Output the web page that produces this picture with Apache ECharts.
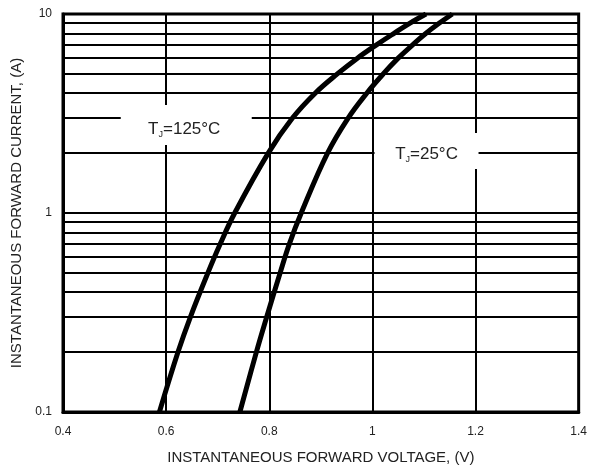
<!DOCTYPE html>
<html>
<head>
<meta charset="utf-8">
<script src="https://cdn.jsdelivr.net/npm/echarts@6/dist/echarts.min.js"></script>
<style>
html,body{margin:0;padding:0;background:#fff;}
#chart{width:590px;height:472px;}
</style>
</head>
<body>
<div id="chart"></div>
<script>
// Forward current (A) sample levels, shared by both curves
const currentA = [0.1, 0.2, 0.3, 0.5, 0.7, 1, 2, 3, 4, 5, 6, 7, 8, 9, 10];
// Forward voltage (V) at Tj = 125 °C
const voltage125 = [0.587, 0.623, 0.647, 0.681, 0.705, 0.733, 0.798, 0.845, 0.889, 0.932, 0.971, 1.008, 1.042, 1.073, 1.104];
// Forward voltage (V) at Tj = 25 °C
const voltage25 = [0.743, 0.775, 0.795, 0.821, 0.839, 0.862, 0.913, 0.953, 0.989, 1.021, 1.050, 1.078, 1.104, 1.130, 1.155];
// Horizontal grid levels (log minor lines)
const gridLevels = [0.2, 0.3, 0.4, 0.5, 0.6, 0.7, 0.8, 0.9, 1, 2, 3, 4, 5, 6, 7, 8, 9];
// X tick labels
const xTicks = ['0.4', '0.6', '0.8', '1', '1.2', '1.4'];
// Curve labels: [voltage, current] anchors
const label125 = { text: '125°C', at: [0.639, 2.77] };
const label25 = { text: '25°C', at: [1.105, 2.05] };

const FONT = 'Liberation Sans, Arial, sans-serif';
const pairs = (xs, ys) => xs.map((x, i) => [x, ys[i]]);

const richStyle = {
  t: { fontSize: 17, color: '#222', fontFamily: FONT, lineHeight: 20 },
  s: { fontSize: 9, color: '#222', fontFamily: FONT, lineHeight: 13, verticalAlign: 'bottom' }
};

const chart = echarts.init(document.getElementById('chart'), null, { renderer: 'canvas' });
chart.setOption({
  animation: false,
  backgroundColor: '#fff',
  grid: { left: 63, right: 11, top: 14, bottom: 60, show: true, borderColor: '#000', borderWidth: 3, backgroundColor: 'transparent' },
  xAxis: {
    type: 'value', min: 0.4, max: 1.4, interval: 0.2,
    name: 'INSTANTANEOUS FORWARD VOLTAGE, (V)', nameLocation: 'middle', nameGap: 38,
    nameTextStyle: { fontSize: 15, color: '#222', fontFamily: FONT },
    axisLine: { show: true, lineStyle: { color: '#000', width: 3 } },
    axisTick: { show: false },
    axisLabel: { fontSize: 12, color: '#222', fontFamily: FONT, margin: 14,
      formatter: (v) => { const i = Math.round((v - 0.4) / 0.2); return xTicks[i] !== undefined ? xTicks[i] : ''; } },
    splitLine: { show: true, lineStyle: { color: '#000', width: 2 } }
  },
  yAxis: {
    type: 'log', logBase: 10, min: 0.1, max: 10,
    name: 'INSTANTANEOUS FORWARD CURRENT, (A)', nameLocation: 'middle', nameGap: 37,
    nameTextStyle: { fontSize: 15, color: '#222', fontFamily: FONT },
    axisLine: { show: true, lineStyle: { color: '#000', width: 3 } },
    axisTick: { show: false },
    axisLabel: { fontSize: 12, color: '#222', fontFamily: FONT, margin: 11,
      formatter: (v) => (v >= 1 ? String(Math.round(v)) : String(Math.round(v * 10) / 10)) },
    splitLine: { show: false }
  },
  series: [
    {
      type: 'line', data: [], z: 1, silent: true,
      markLine: {
        z: 1, silent: true, symbol: ['none', 'none'], animation: false,
        label: { show: false },
        lineStyle: { color: '#000', width: 2, type: 'solid' },
        emphasis: { disabled: true },
        data: gridLevels.map(v => ({ yAxis: v }))
      }
    },
    {
      type: 'line', data: [], z: 2, silent: true,
      markPoint: {
        z: 2, silent: true, animation: false,
        data: [
          { coord: label125.at, symbol: 'rect', symbolSize: [131, 40], itemStyle: { color: '#fff' },
            label: { show: true, position: 'inside', offset: [-2, 4], formatter: '{t|T}{s|J}{t|=' + label125.text + '}', rich: richStyle } },
          { coord: label25.at, symbol: 'rect', symbolSize: [104, 36], itemStyle: { color: '#fff' },
            label: { show: true, position: 'inside', offset: [0, 3], formatter: '{t|T}{s|J}{t|=' + label25.text + '}', rich: richStyle } }
        ]
      }
    },
    {
      name: 'Tj=125', type: 'line', z: 3, smooth: 0.4, showSymbol: false, clip: true,
      lineStyle: { color: '#000', width: 5 }, data: pairs(voltage125, currentA)
    },
    {
      name: 'Tj=25', type: 'line', z: 3, smooth: 0.4, showSymbol: false, clip: true,
      lineStyle: { color: '#000', width: 5 }, data: pairs(voltage25, currentA)
    }
  ]
});
</script>
</body>
</html>
